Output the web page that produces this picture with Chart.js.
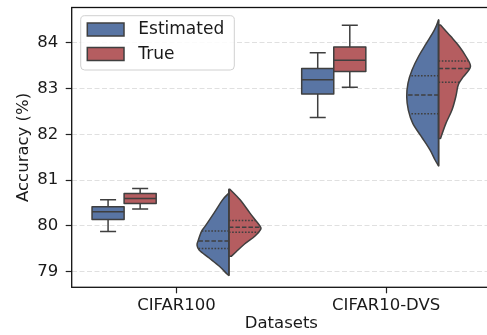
<!DOCTYPE html>
<html>
<head>
<meta charset="utf-8">
<script src="https://cdn.jsdelivr.net/npm/chart.js@4.4.1/dist/chart.umd.min.js"></script>
<style>
  html, body { margin: 0; padding: 0; background: #fff; overflow: hidden; }
  #wrap { position: relative; width: 496px; height: 335px; }
</style>
</head>
<body>
<div id="wrap"><canvas id="chart"></canvas></div>
<script>
// ---- data ----
const categories = ['CIFAR100', 'CIFAR10-DVS'];
const seriesLabels = ['Estimated', 'True'];
const yTicks = [79, 80, 81, 82, 83, 84];

// box summaries per dataset: [lower whisker, Q1, median, Q3, upper whisker]
const estimatedBoxes = [
  [79.88, 80.14, 80.31, 80.42, 80.57],
  [82.37, 82.88, 83.19, 83.44, 83.78]
];
const trueBoxes = [
  [80.37, 80.49, 80.60, 80.71, 80.82],
  [83.03, 83.37, 83.62, 83.91, 84.38]
];

// violin outlines: accuracy levels (top to bottom) and relative density at each level
const estimatedViolinLevels = [
  [80.72, 80.57, 80.28, 80.00, 79.88, 79.67, 79.58, 79.47, 79.30, 79.12, 78.95, 78.92],
  [84.50, 84.28, 83.99, 83.70, 83.41, 83.12, 82.82, 82.53, 82.24, 81.95, 81.66, 81.44, 81.31]
];
const estimatedViolinDensity = [
  [0.00, 0.20, 0.47, 0.74, 0.86, 0.97, 1.00, 0.93, 0.62, 0.30, 0.06, 0.00],
  [0.00, 0.13, 0.38, 0.63, 0.83, 0.96, 1.00, 0.95, 0.81, 0.54, 0.27, 0.11, 0.00]
];
const trueViolinLevels = [
  [80.80, 80.57, 80.28, 80.12, 80.00, 79.93, 79.78, 79.61, 79.43, 79.34],
  [84.39, 84.14, 83.92, 83.70, 83.48, 83.26, 83.14, 83.04, 82.82, 82.53, 82.24, 81.91]
];
const trueViolinDensity = [
  [0.03, 0.35, 0.66, 0.84, 0.97, 1.00, 0.82, 0.50, 0.22, 0.08],
  [0.06, 0.38, 0.65, 0.86, 1.00, 0.78, 0.66, 0.60, 0.54, 0.42, 0.23, 0.06]
];
// inner lines of each violin: [Q1, median, Q3]
const estimatedViolinQuartiles = [[79.51, 79.67, 79.89], [82.45, 82.86, 83.28]];
const trueViolinQuartiles = [[79.86, 79.97, 80.12], [83.14, 83.44, 83.60]];

// ---- styling ----
const FONT = 'DejaVu Sans';
const TEXT = '#1a1a1a';
const EDGE = '#3f3f3f';
const fills = ['#5975a4', '#b55d60'];
const BOX_W = 0.153;      // width of one box, in category units
const BOX_OFFSET = -0.25; // box pair sits left of the category centre
const VIOLIN_OFFSET = 0.25;
const VIOLIN_HALF = 0.152;

Chart.defaults.font.family = FONT;
Chart.defaults.color = TEXT;

function smoothThrough(ctx, pts) {
  for (let i = 0; i < pts.length - 1; i++) {
    const p0 = pts[i - 1] || pts[i], p1 = pts[i], p2 = pts[i + 1], p3 = pts[i + 2] || pts[i + 1];
    ctx.bezierCurveTo(
      p1.x + (p2.x - p0.x) / 6, p1.y + (p2.y - p0.y) / 6,
      p2.x - (p3.x - p1.x) / 6, p2.y - (p3.y - p1.y) / 6,
      p2.x, p2.y);
  }
}

function densityAt(levels, dens, v) {
  for (let k = 0; k < levels.length - 1; k++) {
    const a = levels[k], b = levels[k + 1];
    if (v <= a && v >= b) {
      const t = (a - v) / (a - b);
      return dens[k] + t * (dens[k + 1] - dens[k]);
    }
  }
  return 0;
}

const boxViolinPlugin = {
  id: 'boxViolin',
  beforeDatasetsDraw(chart) {
    const { ctx, scales: { x, y } } = chart;
    const boxes = [estimatedBoxes, trueBoxes];
    const vLevels = [estimatedViolinLevels, trueViolinLevels];
    const vDens = [estimatedViolinDensity, trueViolinDensity];
    const vQuart = [estimatedViolinQuartiles, trueViolinQuartiles];
    ctx.save();
    ctx.lineJoin = 'round';
    ctx.strokeStyle = EDGE;
    ctx.lineWidth = 1.5;

    categories.forEach((cat, ci) => {
      // box plots
      boxes.forEach((set, si) => {
        const [lo, q1, med, q3, hi] = set[ci];
        const left = ci + BOX_OFFSET + (si === 0 ? -BOX_W : 0);
        const mid = left + BOX_W / 2;
        const pl = x.getPixelForValue(left), pr = x.getPixelForValue(left + BOX_W);
        const pm = x.getPixelForValue(mid);
        const cl = x.getPixelForValue(mid - BOX_W / 4), cr = x.getPixelForValue(mid + BOX_W / 4);
        ctx.setLineDash([]);
        ctx.beginPath();
        ctx.moveTo(pm, y.getPixelForValue(q3)); ctx.lineTo(pm, y.getPixelForValue(hi));
        ctx.moveTo(pm, y.getPixelForValue(q1)); ctx.lineTo(pm, y.getPixelForValue(lo));
        ctx.moveTo(cl, y.getPixelForValue(hi)); ctx.lineTo(cr, y.getPixelForValue(hi));
        ctx.moveTo(cl, y.getPixelForValue(lo)); ctx.lineTo(cr, y.getPixelForValue(lo));
        ctx.stroke();
        const pt = y.getPixelForValue(q3), pb = y.getPixelForValue(q1);
        ctx.fillStyle = fills[si];
        ctx.fillRect(pl, pt, pr - pl, pb - pt);
        ctx.strokeRect(pl, pt, pr - pl, pb - pt);
        ctx.beginPath();
        ctx.moveTo(pl, y.getPixelForValue(med)); ctx.lineTo(pr, y.getPixelForValue(med));
        ctx.stroke();
      });

      // split violin
      const centre = ci + VIOLIN_OFFSET;
      const pc = x.getPixelForValue(centre);
      [0, 1].forEach((si) => {
        const side = si === 0 ? -1 : 1;
        const levels = vLevels[si][ci], dens = vDens[si][ci];
        const pts = levels.map((v, k) => ({
          x: x.getPixelForValue(centre + side * dens[k] * VIOLIN_HALF),
          y: y.getPixelForValue(v)
        }));
        ctx.setLineDash([]);
        ctx.beginPath();
        ctx.moveTo(pc, pts[0].y);
        ctx.lineTo(pts[0].x, pts[0].y);
        smoothThrough(ctx, pts);
        ctx.lineTo(pc, pts[pts.length - 1].y);
        ctx.closePath();
        ctx.fillStyle = fills[si];
        ctx.fill();
        ctx.stroke();

        vQuart[si][ci].forEach((q, qi) => {
          const w = densityAt(levels, dens, q) * VIOLIN_HALF;
          const py = y.getPixelForValue(q);
          ctx.setLineDash(qi === 1 ? [4.5, 2] : [1.6, 1.6]);
          ctx.lineWidth = 1.5;
          ctx.beginPath();
          ctx.moveTo(pc, py);
          ctx.lineTo(x.getPixelForValue(centre + side * w), py);
          ctx.stroke();
        });
      });
      ctx.setLineDash([]);
      ctx.beginPath();
      const topV = Math.max(vLevels[0][ci][0], vLevels[1][ci][0]);
      const lvE = vLevels[0][ci], lvT = vLevels[1][ci];
      const botV = Math.min(lvE[lvE.length - 1], lvT[lvT.length - 1]);
      ctx.moveTo(pc, y.getPixelForValue(topV));
      ctx.lineTo(pc, y.getPixelForValue(botV));
      ctx.stroke();
    });
    ctx.restore();
  }
};

const framePlugin = {
  id: 'frameAndLegend',
  afterDraw(chart) {
    const { ctx, chartArea: a } = chart;
    ctx.save();
    ctx.strokeStyle = '#111';
    ctx.lineWidth = 1.3;
    ctx.strokeRect(a.left, a.top, a.right - a.left, a.bottom - a.top);

    // legend box
    const lx = a.left + 9, ly = a.top + 8.2, lw = 153.6, lh = 54.3;
    ctx.beginPath();
    ctx.roundRect(lx, ly, lw, lh, 4);
    ctx.fillStyle = 'rgba(255,255,255,0.85)';
    ctx.fill();
    ctx.strokeStyle = '#d0d0d0';
    ctx.lineWidth = 1;
    ctx.stroke();
    chart.data.datasets.forEach((ds, i) => {
      const cy = ly + 13.8 + i * 24.5;
      ctx.fillStyle = ds.backgroundColor;
      ctx.fillRect(lx + 6.6, cy - 6.5, 36.7, 13);
      ctx.strokeStyle = EDGE;
      ctx.lineWidth = 1.5;
      ctx.strokeRect(lx + 6.6, cy - 6.5, 36.7, 13);
      ctx.fillStyle = TEXT;
      ctx.font = '17px "' + FONT + '"';
      ctx.textBaseline = 'middle';
      ctx.textAlign = 'left';
      ctx.fillText(ds.label, lx + 57.6, cy + 0.5);
    });
    ctx.restore();
  }
};

new Chart(document.getElementById('chart'), {
  type: 'scatter',
  data: {
    datasets: seriesLabels.map((label, i) => ({
      label, data: [], backgroundColor: fills[i], borderColor: EDGE
    }))
  },
  options: {
    responsive: true,
    maintainAspectRatio: false,
    animation: false,
    layout: { padding: { top: 7.5, right: 5, bottom: 0, left: 0 } },
    plugins: { legend: { display: false }, tooltip: { enabled: false } },
    scales: {
      x: {
        type: 'linear', min: -0.5, max: 1.5,
        afterFit(s) { s.height = 47.7; s.paddingLeft = 0; s.paddingRight = 0; },
        afterBuildTicks(s) { s.ticks = categories.map((_, i) => ({ value: i })); },
        ticks: { callback: (v) => categories[v], padding: 3, color: TEXT, font: { size: 16.5 } },
        grid: { drawOnChartArea: false, tickLength: 6, tickColor: '#222', tickWidth: 1.2 },
        border: { display: false },
        title: { display: true, text: 'Datasets', color: TEXT, font: { size: 16.5 }, padding: { top: 0, bottom: 1.6 } }
      },
      y: {
        min: 78.66, max: 84.77,
        afterFit(s) { s.width = 71.7; s.paddingTop = 0; s.paddingBottom = 0; },
        afterBuildTicks(s) { s.ticks = yTicks.map(v => ({ value: v })); },
        ticks: { padding: 7.5, color: TEXT, font: { size: 16.5 } },
        grid: { color: '#e0e0e0', lineWidth: 1, tickLength: 6, tickColor: '#222', tickWidth: 1.2 },
        border: { display: false, dash: [5, 2.5] },
        title: { display: true, text: 'Accuracy (%)', color: TEXT, font: { size: 16.5 }, padding: { top: 14, bottom: 0 } }
      }
    }
  },
  plugins: [boxViolinPlugin, framePlugin]
});
</script>
</body>
</html>
